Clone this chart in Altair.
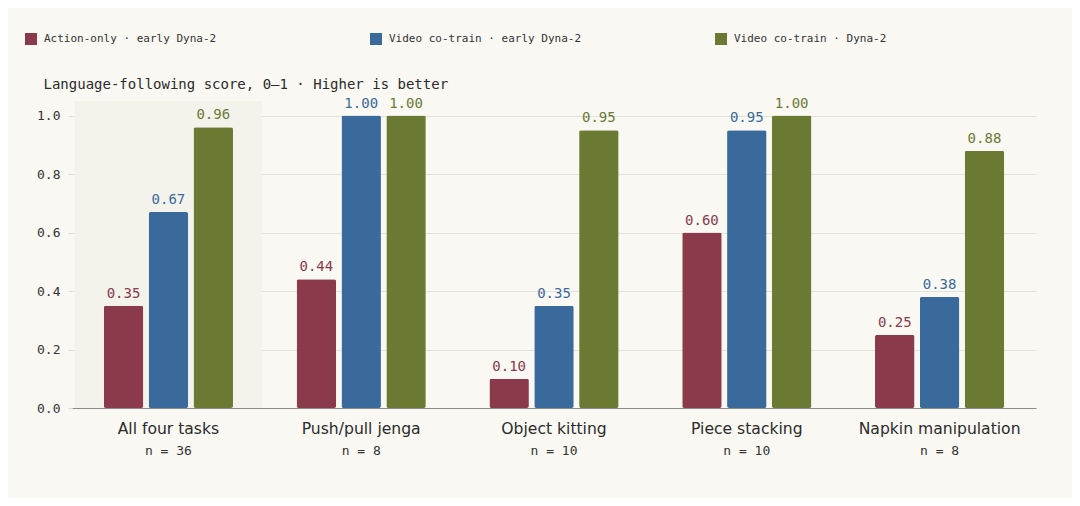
import altair as alt
import pandas as pd

categories = ["All four tasks", "Push/pull jenga", "Object kitting", "Piece stacking", "Napkin manipulation"]
n_labels = ["n = 36", "n = 8", "n = 10", "n = 10", "n = 8"]
series = ["Action-only · early Dyna-2", "Video co-train · early Dyna-2", "Video co-train · Dyna-2"]
action_only = [0.35, 0.44, 0.10, 0.60, 0.25]
video_early = [0.67, 1.00, 0.35, 0.95, 0.38]
video_dyna2 = [0.96, 1.00, 0.95, 1.00, 0.88]
colors = ["#8a3a4b", "#3a6a9b", "#6a7a33"]
highlight = ["All four tasks"]

rows = []
for s, vals in zip(series, [action_only, video_early, video_dyna2]):
    for c, v in zip(categories, vals):
        rows.append({"category": c, "series": s, "value": v})
df = pd.DataFrame(rows)
ndf = pd.DataFrame({"category": categories, "n": n_labels})
hdf = pd.DataFrame({"category": highlight})

W, H = 964, 307
MONO = "DejaVu Sans Mono"
SANS = "DejaVu Sans"

xscale = alt.Scale(domain=categories, paddingInner=0.33, paddingOuter=0.165)
yscale = alt.Scale(domain=[0, 1.05])
cscale = alt.Scale(domain=series, range=colors)

x_axis = alt.Axis(title=None, labelAngle=0, labelAlign="center", bandPosition=0.5,
                  labelFont=SANS, labelFontSize=15.6,
                  labelColor="#2b2b2b", labelPadding=13, ticks=False,
                  domainColor="#8c8c8c", domainWidth=1.2)

y_axis = alt.Axis(values=[0, 0.2, 0.4, 0.6, 0.8, 1.0], format=".1f",
                  labelFont=MONO, labelFontSize=13, labelColor="#333333", labelPadding=8,
                  tickSize=4, tickColor="#dcdbd4", domain=False,
                  grid=True, gridColor="#e2e1da", gridWidth=1.2,
                  title="Language-following score, 0–1 · Higher is better",
                  titleAngle=0, titleAlign="left", titleBaseline="alphabetic",
                  titleX=-29, titleY=-13, titleFont=MONO, titleFontSize=14,
                  titleFontWeight="normal", titleColor="#2b2b2b")

band = alt.Chart(hdf).mark_bar(color="#f3f2eb", width=187).encode(
    x=alt.X("category:N", scale=xscale, sort=categories, axis=x_axis),
    y=alt.Y("top:Q", scale=yscale, axis=y_axis),
    y2="bottom:Q",
).transform_calculate(top="1.05", bottom="0")

bars = alt.Chart(df).mark_bar(cornerRadius=2).encode(
    x=alt.X("category:N", scale=xscale, sort=categories, axis=x_axis),
    xOffset=alt.XOffset("series:N", sort=series, scale=alt.Scale(paddingInner=0.12, paddingOuter=0)),
    y=alt.Y("value:Q", scale=yscale, axis=y_axis),
    color=alt.Color("series:N", scale=cscale, sort=series,
                    legend=alt.Legend(title=None, orient="none", legendX=-47, legendY=-68,
                                      direction="horizontal", columns=3, gridAlign="all",
                                      columnPadding=133, symbolType="square", symbolSize=144,
                                      symbolStrokeWidth=0, symbolOpacity=1, labelLimit=0,
                                      labelFont=MONO, labelFontSize=11, labelColor="#333333",
                                      labelOffset=7)),
)

labels = alt.Chart(df).mark_text(font=MONO, fontSize=14, baseline="alphabetic", dy=-8).encode(
    x=alt.X("category:N", scale=xscale, sort=categories),
    xOffset=alt.XOffset("series:N", sort=series, scale=alt.Scale(paddingInner=0.12, paddingOuter=0)),
    y=alt.Y("value:Q", scale=yscale),
    text=alt.Text("value:Q", format=".2f"),
    color=alt.Color("series:N", scale=cscale, sort=series, legend=None),
)

nlab = alt.Chart(ndf).mark_text(font=MONO, fontSize=13, color="#333333", baseline="alphabetic").encode(
    x=alt.X("category:N", scale=xscale, sort=categories),
    y=alt.value(H + 47),
    text="n:N",
)

chart = alt.layer(band, bars, labels, nlab).properties(
    width=W, height=H,
    autosize=alt.AutoSizeParams(type="none"),
    padding={"left": 64, "top": 93, "right": 36, "bottom": 90},
    background="#f9f8f3",
).configure_view(stroke=None)

chart.save("out.html", embed_options={"renderer": "svg", "actions": False})
